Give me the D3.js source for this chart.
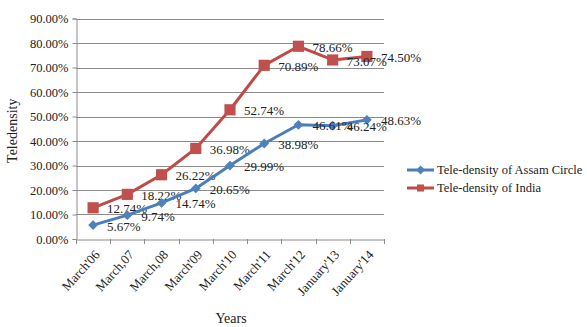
<!DOCTYPE html>
<html>
<head>
<meta charset="utf-8">
<script src="https://cdn.jsdelivr.net/npm/d3@7"></script>
<style>
  body { margin: 0; background: #fff; }
  text { font-family: "Liberation Serif", "Times New Roman", serif; fill: #222; }
</style>
</head>
<body>
<svg id="chart" width="587" height="327"></svg>
<script>
// data
const years = ["March'06", "March,07", "March,08", "March'09", "March'10", "March'11", "March'12", "January'13", "January'14"];
const assam = [5.67, 9.74, 14.74, 20.65, 29.99, 38.98, 46.61, 46.24, 48.63];
const india = [12.74, 18.22, 26.22, 36.98, 52.74, 70.89, 78.66, 73.07, 74.50];
const yTicks = [0, 10, 20, 30, 40, 50, 60, 70, 80, 90];
const seriesNames = ["Tele-density of Assam Circle", "Tele-density of India"];

const svg = d3.select("#chart");
const pLeft = 76, pRight = 384, pTop = 18.5, pBottom = 239;

let x = d3.scaleBand().domain(years).range([pLeft, pRight]);
let y = d3.scaleLinear().domain([0, 90]).range([pBottom, pTop]);

// gridlines
svg.append("g")
    .selectAll("line")
    .data(yTicks.filter(d => d > 0))
    .enter().append("line")
    .attr("x1", pLeft).attr("x2", pRight)
    .attr("y1", d => Math.round(y(d)) + 0.5).attr("y2", d => Math.round(y(d)) + 0.5)
    .attr("stroke", "#8c8c8c").attr("stroke-width", 1);

// y axis
let yAxis = svg.append("g")
    .attr("transform", `translate(${pLeft + 0.5},0)`)
    .call(d3.axisLeft(y).tickValues(yTicks).tickSize(4).tickFormat(d => d.toFixed(2) + "%"));
yAxis.attr("font-family", "Liberation Serif").attr("font-size", null);
yAxis.select(".domain").attr("stroke", "#8c8c8c");
yAxis.selectAll(".tick line").attr("stroke", "#8c8c8c");
yAxis.selectAll(".tick text").attr("x", -8).style("font-size", "12.5px").attr("fill", "#222");

// x axis
let xAxis = svg.append("g")
    .attr("transform", `translate(0,${Math.round(pBottom) + 0.5})`)
    .call(d3.axisBottom(x).tickSize(0).tickFormat(""));
xAxis.select(".domain").attr("stroke", "#8c8c8c");

// category boundary ticks
let bounds = years.map(d => x(d)).concat([pRight]);
svg.append("g")
    .selectAll("line")
    .data(bounds)
    .enter().append("line")
    .attr("x1", d => Math.round(d) + 0.5).attr("x2", d => Math.round(d) + 0.5)
    .attr("y1", pBottom).attr("y2", pBottom + 5)
    .attr("stroke", "#8c8c8c");

// rotated category labels
svg.append("g")
    .selectAll("text")
    .data(years)
    .enter().append("text")
    .attr("transform", d => `translate(${x(d) + x.bandwidth() / 2 + 4},${pBottom + 13}) rotate(-48)`)
    .attr("text-anchor", "end")
    .attr("dy", "0.35em")
    .style("font-size", "13px")
    .text(d => d);

// axis titles
svg.append("text")
    .attr("transform", `translate(17,${(pTop + pBottom) / 2 + 2}) rotate(-90)`)
    .attr("text-anchor", "middle")
    .style("font-size", "14px")
    .text("Teledensity");

svg.append("text")
    .attr("x", 231).attr("y", 323)
    .attr("text-anchor", "middle")
    .style("font-size", "14px")
    .text("Years");

const line = d3.line()
    .x((d, i) => x(years[i]) + x.bandwidth() / 2)
    .y(d => y(d));

const series = [
    { name: seriesNames[1], values: india, stroke: "#be4b48", fill: "#c0504d", shape: d3.symbolSquare, size: 125, rot: 0 },
    { name: seriesNames[0], values: assam, stroke: "#4a7ebb", fill: "#4f81bd", shape: d3.symbolSquare, size: 48, rot: 45 }
];

series.forEach(s => {
    svg.append("path")
        .datum(s.values)
        .attr("d", line)
        .attr("fill", "none")
        .attr("stroke", s.stroke)
        .attr("stroke-width", 3)
        .attr("stroke-linejoin", "round");

    svg.append("g")
        .selectAll("path")
        .data(s.values)
        .enter().append("path")
        .attr("transform", (d, i) => `translate(${x(years[i]) + x.bandwidth() / 2},${y(d)}) rotate(${s.rot})`)
        .attr("d", d3.symbol().type(s.shape).size(s.size))
        .attr("fill", s.fill);

    svg.append("g")
        .selectAll("text")
        .data(s.values)
        .enter().append("text")
        .attr("x", (d, i) => x(years[i]) + x.bandwidth() / 2 + 14)
        .attr("y", d => y(d) + 1)
        .attr("dy", "0.35em")
        .style("font-size", "13px")
        .text(d => d.toFixed(2) + "%");
});

// legend
const legend = [
    { name: seriesNames[0], stroke: "#4a7ebb", fill: "#4f81bd", size: 40, rot: 45, y: 170 },
    { name: seriesNames[1], stroke: "#be4b48", fill: "#c0504d", size: 50, rot: 0, y: 188 }
];
let lg = svg.append("g").selectAll("g").data(legend).enter().append("g")
    .attr("transform", d => `translate(407,${d.y})`);
lg.append("line").attr("x1", 0).attr("x2", 27)
    .attr("stroke", d => d.stroke).attr("stroke-width", 3);
lg.append("path").attr("transform", d => `translate(13.5,0) rotate(${d.rot})`)
    .attr("d", d => d3.symbol().type(d3.symbolSquare).size(d.size)())
    .attr("fill", d => d.fill);
lg.append("text").attr("x", 30).attr("dy", "0.35em")
    .style("font-size", "12.5px")
    .text(d => d.name);
</script>
</body>
</html>
